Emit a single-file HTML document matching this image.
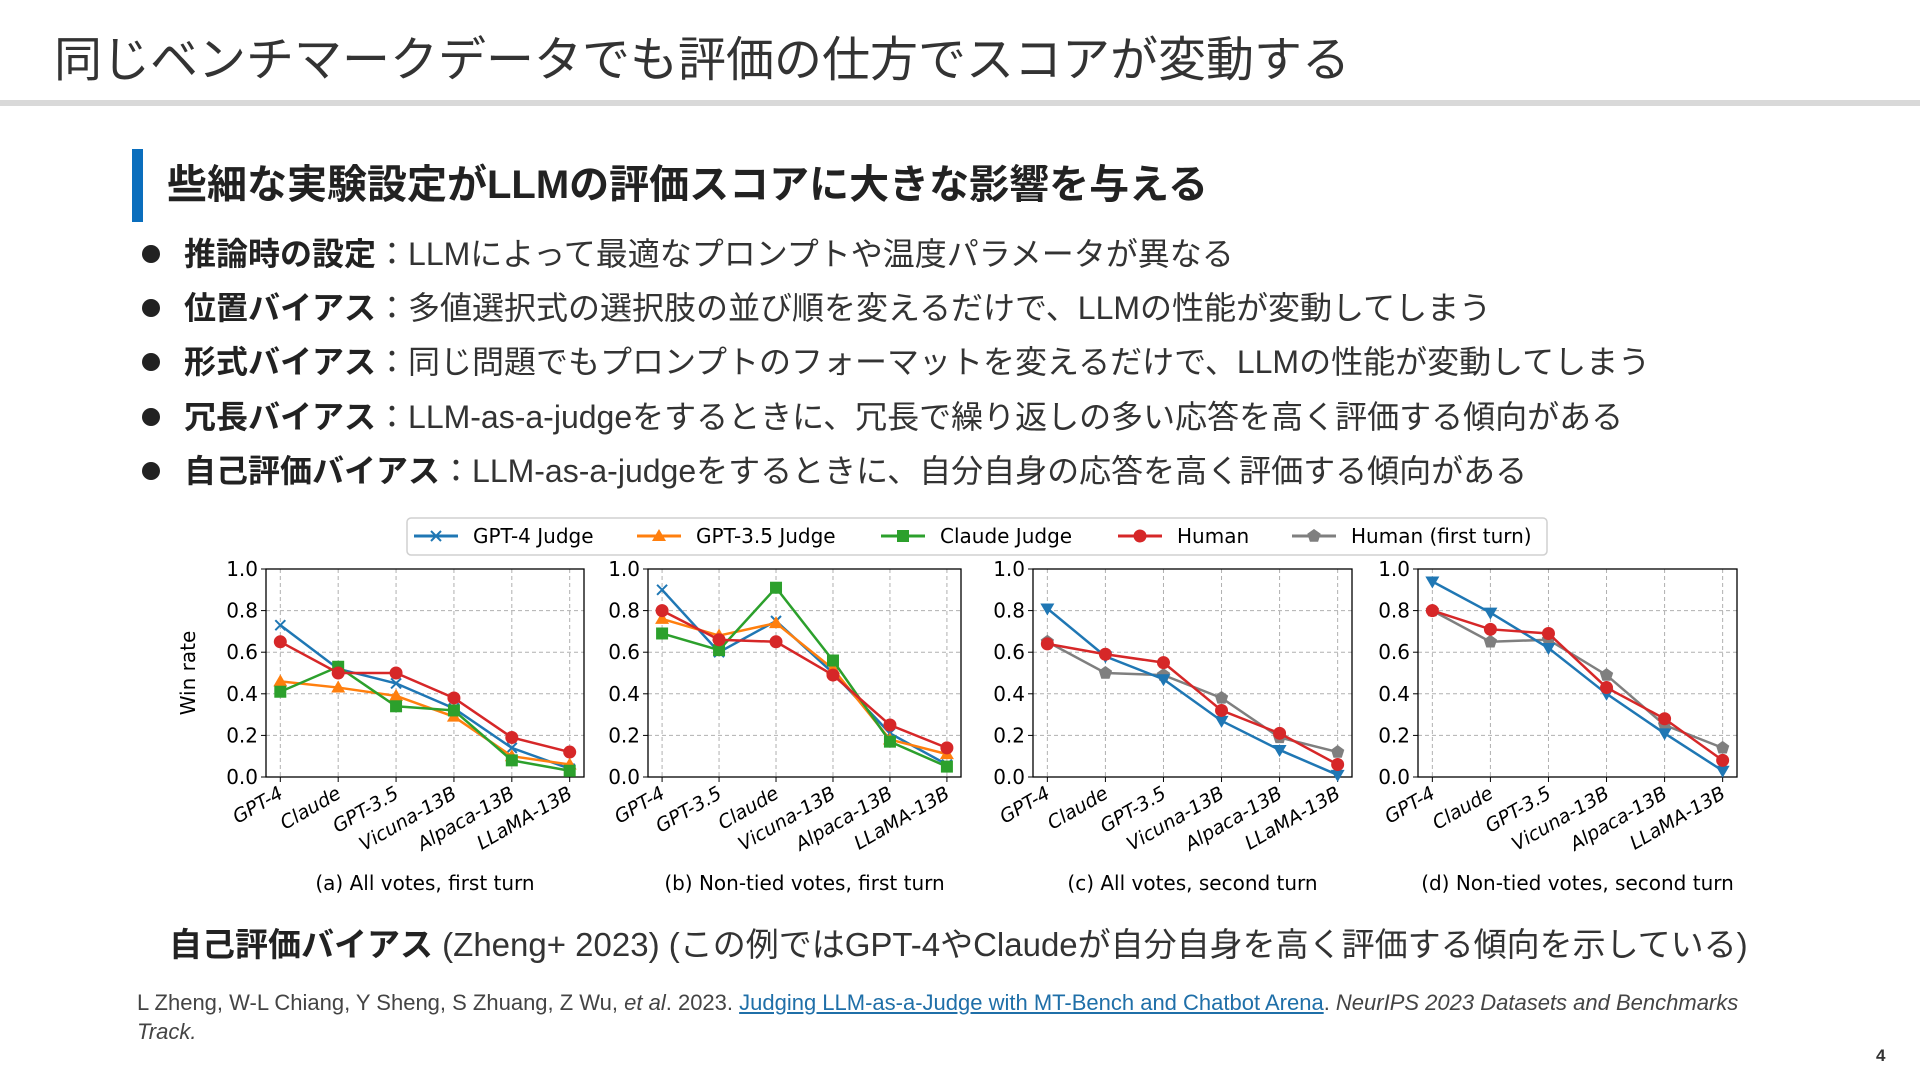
<!DOCTYPE html>
<html><head><meta charset="utf-8"><style>
body{margin:0;width:1920px;height:1080px;background:#fff;position:relative;overflow:hidden;font-family:"Liberation Sans","Noto Sans CJK JP",sans-serif;color:#333}
.abs{position:absolute;white-space:nowrap}
.title{left:54px;top:20px;font-size:48px;color:#333}
.rule{left:0;top:100px;width:1920px;height:6px;background:#d9d9d9}
.bar{left:132px;top:149px;width:11px;height:73px;background:#0a6ebd}
.head{left:167px;top:160px;font-size:40px;font-weight:bold;color:#222;line-height:50px}
.bl{font-size:32px;color:#333;left:184px;line-height:40px}
.bl b{color:#222}
.dot{width:18px;height:18px;border-radius:50%;background:#222;left:142px}
.cap{left:169px;top:918px;font-size:33px;color:#333}
.ref{left:137px;top:988px;font-size:22px;color:#444;line-height:29px}
.ref a{color:#1f6fa8;text-decoration:underline}
</style></head><body>
<div class="abs title">同じベンチマークデータでも評価の仕方でスコアが変動する</div>
<div class="abs rule"></div>
<div class="abs bar"></div>
<div class="abs head">些細な実験設定がLLMの評価スコアに大きな影響を与える</div>
<div class="abs dot" style="top:245px"></div>
<div class="abs bl" style="top:234px"><b>推論時の設定</b>：LLMによって最適なプロンプトや温度パラメータが異なる</div>
<div class="abs dot" style="top:299px"></div>
<div class="abs bl" style="top:288px"><b>位置バイアス</b>：多値選択式の選択肢の並び順を変えるだけで、LLMの性能が変動してしまう</div>
<div class="abs dot" style="top:353px"></div>
<div class="abs bl" style="top:342px"><b>形式バイアス</b>：同じ問題でもプロンプトのフォーマットを変えるだけで、LLMの性能が変動してしまう</div>
<div class="abs dot" style="top:408px"></div>
<div class="abs bl" style="top:397px"><b>冗長バイアス</b>：LLM-as-a-judgeをするときに、冗長で繰り返しの多い応答を高く評価する傾向がある</div>
<div class="abs dot" style="top:462px"></div>
<div class="abs bl" style="top:451px"><b>自己評価バイアス</b>：LLM-as-a-judgeをするときに、自分自身の応答を高く評価する傾向がある</div>

<svg id="chart" class="abs" style="left:0;top:0" width="1920" height="1080"></svg>

<div class="abs cap"><b style="color:#222">自己評価バイアス</b> (Zheng+ 2023) (この例ではGPT-4やClaudeが自分自身を高く評価する傾向を示している)</div>
<div class="abs ref">L Zheng, W-L Chiang, Y Sheng, S Zhuang, Z Wu, <i>et al</i>. 2023. <a>Judging LLM-as-a-Judge with MT-Bench and Chatbot Arena</a>. <i>NeurIPS 2023 Datasets and Benchmarks</i><br><i>Track.</i></div>
<div class="abs" style="left:1876px;top:1046px;font-size:17px;font-weight:bold;color:#333">4</div>

<script>
const catsA=["GPT-4","Claude","GPT-3.5","Vicuna-13B","Alpaca-13B","LLaMA-13B"];
const catsB=["GPT-4","GPT-3.5","Claude","Vicuna-13B","Alpaca-13B","LLaMA-13B"];
const yTicks=[0,0.2,0.4,0.6,0.8,1.0];
const a_gpt4=[0.73,0.52,0.45,0.33,0.14,0.04];
const a_gpt35=[0.46,0.43,0.39,0.29,0.10,0.06];
const a_claude=[0.41,0.53,0.34,0.32,0.08,0.03];
const a_human=[0.65,0.50,0.50,0.38,0.19,0.12];
const b_gpt4=[0.90,0.60,0.75,0.50,0.21,0.06];
const b_gpt35=[0.76,0.68,0.74,0.52,0.18,0.11];
const b_claude=[0.69,0.61,0.91,0.56,0.17,0.05];
const b_human=[0.80,0.66,0.65,0.49,0.25,0.14];
const c_gpt4=[0.81,0.58,0.47,0.27,0.13,0.01];
const c_human=[0.64,0.59,0.55,0.32,0.21,0.06];
const c_first=[0.65,0.50,0.49,0.38,0.19,0.12];
const d_gpt4=[0.94,0.79,0.62,0.40,0.21,0.03];
const d_human=[0.80,0.71,0.69,0.43,0.28,0.08];
const d_first=[0.80,0.65,0.66,0.49,0.25,0.14];
const subtitles=["(a) All votes, first turn","(b) Non-tied votes, first turn","(c) All votes, second turn","(d) Non-tied votes, second turn"];
const legendLabels=["GPT-4 Judge","GPT-3.5 Judge","Claude Judge","Human","Human (first turn)"];

const NS="http://www.w3.org/2000/svg";
const svg=document.getElementById('chart');
function el(t,a,p){const e=document.createElementNS(NS,t);for(const k in a)e.setAttribute(k,a[k]);(p||svg).appendChild(e);return e;}
const C={gpt4:"#1f77b4",gpt35:"#ff7f0e",claude:"#2ca02c",human:"#d62728",first:"#7f7f7f"};
function marker(g,type,x,y,c){
  let m;
  if(type==="x"){m=el('path',{d:`M${x-5} ${y-5}L${x+5} ${y+5}M${x-5} ${y+5}L${x+5} ${y-5}`,stroke:c,'stroke-width':2,fill:'none'},g);}
  else if(type==="tu"){m=el('polygon',{points:`${x},${y-7} ${x-7},${y+5} ${x+7},${y+5}`,fill:c},g);}
  else if(type==="td"){m=el('polygon',{points:`${x},${y+7} ${x-7},${y-5} ${x+7},${y-5}`,fill:c},g);}
  else if(type==="sq"){m=el('rect',{x:x-6,y:y-6,width:12,height:12,fill:c},g);}
  else if(type==="ci"){m=el('circle',{cx:x,cy:y,r:6.5,fill:c},g);}
  else {let p=[];for(let i=0;i<5;i++){const a=-Math.PI/2+i*2*Math.PI/5;p.push((x+7*Math.cos(a)).toFixed(1)+","+(y+7*Math.sin(a)).toFixed(1));}m=el('polygon',{points:p.join(" "),fill:c},g);}
  
  
}
const panels=[
 {l:266,r:584,cats:catsA,series:[[a_gpt4,"gpt4","x"],[a_gpt35,"gpt35","tu"],[a_claude,"claude","sq"],[a_human,"human","ci"]]},
 {l:648,r:961,cats:catsB,series:[[b_gpt4,"gpt4","x"],[b_gpt35,"gpt35","tu"],[b_claude,"claude","sq"],[b_human,"human","ci"]]},
 {l:1033,r:1352,cats:catsA,series:[[c_first,"first","pe"],[c_gpt4,"gpt4","td"],[c_human,"human","ci"]]},
 {l:1418,r:1737,cats:catsA,series:[[d_first,"first","pe"],[d_gpt4,"gpt4","td"],[d_human,"human","ci"]]}
];
const plotTop=569,plotBot=777;
panels.forEach((p,pi)=>{
  const g=el('g',{});
  
  
  const pad=(p.r-p.l)*0.045;
  const xs=i=>p.l+pad+i*((p.r-p.l-2*pad)/(p.cats.length-1));
  const ys=v=>plotBot-v*(plotBot-plotTop);
  yTicks.forEach(t=>{
    el('line',{x1:p.l,x2:p.r,y1:ys(t),y2:ys(t),stroke:'#b0b0b0','stroke-dasharray':'4,3','stroke-width':1},g);
    el('line',{x1:p.l-5,x2:p.l,y1:ys(t),y2:ys(t),stroke:'#000'},g);
    const tx=el('text',{x:p.l-8,y:ys(t)+7,'text-anchor':'end','font-size':20,fill:'#000','font-family':'DejaVu Sans, sans-serif'},g);
    tx.textContent=t.toFixed(1);
    
  });
  p.cats.forEach((c,i)=>{
    el('line',{x1:xs(i),x2:xs(i),y1:plotTop,y2:plotBot,stroke:'#b0b0b0','stroke-dasharray':'4,3'},g);
    el('line',{x1:xs(i),x2:xs(i),y1:plotBot,y2:plotBot+5,stroke:'#000'},g);
    const tx=el('text',{x:xs(i)+4,y:plotBot+20,'text-anchor':'end','font-size':19,'font-style':'italic',fill:'#000','font-family':'DejaVu Sans, sans-serif',transform:`rotate(-30 ${xs(i)+4} ${plotBot+20})`},g);
    tx.textContent=c;
    
  });
  el('rect',{x:p.l,y:plotTop,width:p.r-p.l,height:plotBot-plotTop,fill:'none',stroke:'#000','stroke-width':1.3},g);
  p.series.forEach(s=>{
    const [vals,key,mk]=s;
    const pl=el('polyline',{points:vals.map((v,i)=>xs(i)+","+ys(v)).join(" "),fill:'none',stroke:C[key],'stroke-width':2.5},g);
    
    vals.forEach((v,i)=>marker(g,mk,xs(i),ys(v),C[key]));
  });
  const st=el('text',{x:(p.l+p.r)/2,y:890,'text-anchor':'middle','font-size':20,fill:'#000','font-family':'DejaVu Sans, sans-serif'},g);
  st.textContent=subtitles[pi];
  
});
const yl=el('text',{x:195,y:673,'text-anchor':'middle','font-size':20,fill:'#000','font-family':'DejaVu Sans, sans-serif',transform:'rotate(-90 195 673)'});
yl.textContent="Win rate";


const lg=el('g',{});


el('rect',{x:407,y:518,width:1140,height:37,rx:4,fill:'#fff',stroke:'#d0d0d0','stroke-width':1.5},lg);
const lkeys=["gpt4","gpt35","claude","human","first"],lmk=["x","tu","sq","ci","pe"],lx=[414,637,881,1118,1292];
legendLabels.forEach((t,i)=>{
  const e=el('g',{},lg);
  
  
  el('line',{x1:lx[i],x2:lx[i]+44,y1:536,y2:536,stroke:C[lkeys[i]],'stroke-width':3},e);
  marker(e,lmk[i],lx[i]+22,536,C[lkeys[i]]);
  const tx=el('text',{x:lx[i]+59,y:543,'font-size':20,fill:'#000','font-family':'DejaVu Sans, sans-serif'},e);
  tx.textContent=t;
});
</script>
</body></html>
